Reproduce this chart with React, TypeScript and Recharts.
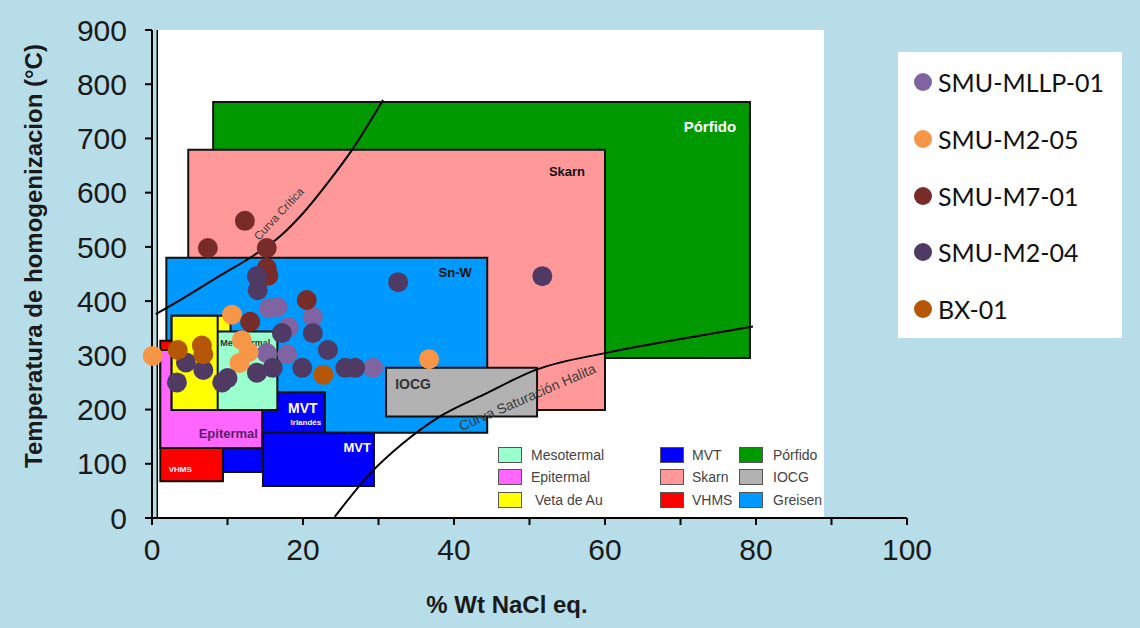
import React from 'react';
import {
  ComposedChart,
  XAxis,
  YAxis,
  Scatter,
  Line,
  ReferenceArea,
  ReferenceLine,
  ReferenceDot,
  Legend,
} from 'recharts';

// axis ticks
const xTicks = [0, 10, 20, 30, 40, 50, 60, 70, 80, 90, 100];
const yTicks = [0, 100, 200, 300, 400, 500, 600, 700, 800, 900];

// series names, in legend order
const seriesNames = ['SMU-MLLP-01', 'SMU-M2-05', 'SMU-M7-01', 'SMU-M2-04', 'BX-01'];

// fluid inclusions: salinity (% wt NaCl eq.) vs homogenization temperature (°C)
const smuMllp01 = [
  { x: 15.5, y: 387 }, { x: 16.6, y: 389 }, { x: 18.1, y: 352 }, { x: 21.3, y: 371 },
  { x: 15.2, y: 304 }, { x: 17.9, y: 302 }, { x: 29.3, y: 277 },
];
const smuM205 = [
  { x: 0.1, y: 299 }, { x: 10.6, y: 375 }, { x: 11.9, y: 328 }, { x: 12.8, y: 306 },
  { x: 11.6, y: 286 }, { x: 36.7, y: 293 },
];
const smuM701 = [
  { x: 7.4, y: 498 }, { x: 12.3, y: 548 }, { x: 15.2, y: 498 }, { x: 15.2, y: 461 },
  { x: 15.4, y: 447 }, { x: 13.0, y: 362 }, { x: 20.5, y: 402 },
];
const smuM204 = [
  { x: 3.3, y: 250 }, { x: 4.5, y: 287 }, { x: 6.8, y: 273 }, { x: 9.3, y: 250 },
  { x: 10.0, y: 258 }, { x: 13.9, y: 268 }, { x: 16.0, y: 277 }, { x: 19.9, y: 277 },
  { x: 25.6, y: 277 }, { x: 26.9, y: 277 }, { x: 23.3, y: 310 }, { x: 17.2, y: 341 },
  { x: 21.3, y: 341 }, { x: 14.0, y: 420 }, { x: 13.9, y: 446 }, { x: 32.6, y: 435 },
  { x: 51.7, y: 446 },
];
const bx01 = [
  { x: 3.4, y: 310 }, { x: 6.6, y: 318 }, { x: 6.8, y: 302 }, { x: 22.7, y: 264 },
];

// reference curves
const curvaCritica = [
  { x: 0.5, y: 376 }, { x: 4, y: 404 }, { x: 9, y: 447 }, { x: 13, y: 480 },
  { x: 17, y: 520 }, { x: 20, y: 562 }, { x: 23.6, y: 624 }, { x: 26.5, y: 679 },
  { x: 30.6, y: 771 },
];
const curvaHalita = [
  { x: 24.2, y: 2 }, { x: 29.1, y: 85 }, { x: 33, y: 135 }, { x: 38.1, y: 187 },
  { x: 44, y: 228 }, { x: 51, y: 274 }, { x: 60.3, y: 305 }, { x: 70, y: 330 },
  { x: 79.6, y: 353 },
];

// deposit fields [x1, x2, y1, y2]
const porfido = [8.1, 79.2, 295, 767];
const skarn = [4.8, 60, 199, 679];
const snW = [1.9, 44.4, 157, 480];
const iocg = [31, 51, 187, 277];
const vhms = [1.1, 9.4, 68, 327];
const mvtIrlandes = [9.4, 22.9, 85, 232];
const epitermal = [1.1, 14.6, 129, 310];
const vetaAu = [2.6, 10.4, 199, 373];
const mesotermal = [5.2, 16.6, 199, 344];
const vetaAuInner = [2.6, 8.7, 199, 373];
const mvt = [14.7, 29.4, 59, 157];

const fieldNames = [
  ['Mesotermal', 'Epitermal', 'Veta de Au'],
  ['MVT', 'Skarn', 'VHMS'],
  ['Pórfido', 'IOCG', 'Greisen'],
];

const FONT = "'Liberation Sans', Arial, sans-serif";

const fieldColors: Record<string, string> = {
  Mesotermal: '#99ffcc',
  Epitermal: '#ff66ff',
  'Veta de Au': '#ffff00',
  MVT: '#0000ff',
  Skarn: '#ff9999',
  VHMS: '#ff0000',
  'Pórfido': '#009900',
  IOCG: '#b2b2b2',
  Greisen: '#0099ff',
};

const dot = (color: string) => (p: any) => <circle cx={p.cx} cy={p.cy} r={10} fill={color} />;

// text placed relative to an area's box
const boxText = (
  text: string,
  anchor: 'tl' | 'tr' | 'bl' | 'br',
  dx: number,
  dy: number,
  size: number,
  color: string,
  align: 'start' | 'middle' | 'end' = 'middle',
) => (props: any) => {
  const vb = props.viewBox;
  if (!vb) return null;
  const bx = anchor === 'tl' || anchor === 'bl' ? vb.x : vb.x + vb.width;
  const by = anchor === 'tl' || anchor === 'tr' ? vb.y : vb.y + vb.height;
  return (
    <text
      x={bx + dx}
      y={by + dy}
      textAnchor={align}
      dominantBaseline="central"
      fontSize={size}
      fontWeight="bold"
      fontFamily={FONT}
      fill={color}
    >
      {text}
    </text>
  );
};

const mvtIrlLabel = (props: any) => {
  const vb = props.viewBox;
  if (!vb) return null;
  const x = vb.x + vb.width;
  return (
    <g fontFamily={FONT} fontWeight="bold" fill="#fff" textAnchor="middle">
      <text x={x - 22} y={vb.y + 16} fontSize={14} dominantBaseline="central">MVT</text>
      <text x={x - 19} y={vb.y + 30} fontSize={8} dominantBaseline="central">Irlandés</text>
    </g>
  );
};

const curveText = (text: string, angle: number, size: number) => (p: any) => (
  <text
    x={p.cx}
    y={p.cy}
    transform={`rotate(${angle} ${p.cx} ${p.cy})`}
    textAnchor="middle"
    dominantBaseline="central"
    fontSize={size}
    fontFamily={FONT}
    fill="#3a3a3a"
  >
    {text}
  </text>
);

const area = (b: number[], fill: string, label?: any) => (
  <ReferenceArea
    x1={b[0]}
    x2={b[1]}
    y1={b[2]}
    y2={b[3]}
    fill={fill}
    fillOpacity={1}
    stroke="#111"
    strokeWidth={2}
    ifOverflow="visible"
    label={label}
  />
);

const SeriesLegend = (props: any) => {
  const items = (props.payload || [])
    .filter((e: any) => e.type !== 'none' && seriesNames.includes(e.value))
    .sort((a: any, b: any) => seriesNames.indexOf(a.value) - seriesNames.indexOf(b.value));
  return (
    <div style={{ position: 'relative', width: 224, height: 286, background: '#fff' }}>
      {items.map((e: any, i: number) => (
        <div
          key={e.value}
          style={{
            position: 'absolute',
            left: 16,
            top: 16 + i * 56.8,
            height: 28,
            display: 'flex',
            alignItems: 'center',
            whiteSpace: 'nowrap',
          }}
        >
          <span
            style={{ width: 18, height: 18, borderRadius: 9, background: e.color, marginRight: 6, display: 'inline-block' }}
          />
          <span style={{ fontSize: 25, color: '#111', fontFamily: "Lato, 'Open Sans', sans-serif" }}>{e.value}</span>
        </div>
      ))}
    </div>
  );
};

const FieldLegend = () => {
  const colX = [498, 660, 739];
  const textX = [531, 692, 773];
  const rowY = [447, 469, 492];
  return (
    <>
      {fieldNames.map((col, ci) =>
        col.map((name, ri) => (
          <React.Fragment key={name}>
            <div
              style={{
                position: 'absolute',
                left: colX[ci],
                top: rowY[ri],
                width: 22,
                height: 14,
                background: fieldColors[name],
                border: '1.5px solid #555',
              }}
            />
            <div
              style={{
                position: 'absolute',
                left: textX[ci] + (name === 'Veta de Au' ? 4 : 0),
                top: rowY[ri] - 1,
                fontSize: 14,
                lineHeight: '18px',
                color: '#444',
                fontFamily: FONT,
              }}
            >
              {name}
            </div>
          </React.Fragment>
        )),
      )}
    </>
  );
};

export default function App() {
  return (
    <div
      style={{
        position: 'absolute',
        left: 0,
        top: 0,
        width: 1140,
        height: 628,
        background: '#b7dde8',
        fontFamily: FONT,
      }}
    >
      <ComposedChart width={1140} height={628} margin={{ top: 30, right: 233, bottom: 50, left: 72 }}>
        <XAxis
          type="number"
          dataKey="x"
          domain={[0, 100]}
          ticks={xTicks}
          interval={0}
          tickFormatter={(v: number) => (v % 20 === 0 ? String(v) : '')}
          axisLine={{ stroke: '#000', strokeWidth: 2 }}
          tickLine={{ stroke: '#000', strokeWidth: 2 }}
          tickSize={7}
          tickMargin={14}
          tick={{ fill: '#1a1a1a', fontSize: 30, fontFamily: FONT }}
          height={60}
        />
        <YAxis
          type="number"
          dataKey="y"
          domain={[0, 900]}
          ticks={yTicks}
          interval={0}
          axisLine={{ stroke: '#000', strokeWidth: 2 }}
          tickLine={{ stroke: '#000', strokeWidth: 2 }}
          tickSize={7}
          tickMargin={18}
          tick={{ fill: '#1a1a1a', fontSize: 30, fontFamily: FONT }}
          width={80}
          label={{
            content: () => (
              <text
                x={33}
                y={256}
                transform="rotate(-90 33 256)"
                textAnchor="middle"
                dominantBaseline="central"
                fontSize={24}
                fontWeight="bold"
                fontFamily={FONT}
                fill="#1a1a1a"
              >
                Temperatura de homogenizacion (°C)
              </text>
            ),
          }}
        />
        <Legend
          layout="vertical"
          align="center"
          verticalAlign="middle"
          content={SeriesLegend}
          wrapperStyle={{ left: 898, top: 52, width: 224, height: 286 }}
        />

        <ReferenceArea x1={0.8} x2={89} y1={0} y2={900} fill="#fff" fillOpacity={1} ifOverflow="visible" />
        <ReferenceLine x={0.7} stroke="#000" strokeWidth={1.5} />

        {area(porfido, fieldColors['Pórfido'], boxText('Pórfido', 'tr', -40, 24, 15, '#fff'))}
        {area(skarn, fieldColors.Skarn, boxText('Skarn', 'tr', -38, 22, 13, '#111'))}
        {area(snW, fieldColors.Greisen, boxText('Sn-W', 'tr', -32, 15, 13, '#111'))}
        {area(iocg, fieldColors.IOCG, boxText('IOCG', 'tl', 27, 16, 14, '#333'))}
        {area(vhms, fieldColors.VHMS, boxText('VHMS', 'bl', 20, -12, 8, '#fff'))}
        {area(mvtIrlandes, fieldColors.MVT, mvtIrlLabel)}
        {area(epitermal, fieldColors.Epitermal, boxText('Epitermal', 'bl', 68, -15, 13, '#5a1f6b'))}
        {area(vetaAu, fieldColors['Veta de Au'])}
        {area(mesotermal, fieldColors.Mesotermal, boxText('Mesotermal', 'tl', 29, 12, 9, '#333', 'start'))}
        {area(vetaAuInner, fieldColors['Veta de Au'])}
        {area(mvt, fieldColors.MVT, boxText('MVT', 'tr', -3, 15, 13, '#fff', 'end'))}

        <Line
          data={curvaCritica}
          dataKey="y"
          type="monotone"
          stroke="#000"
          strokeWidth={2}
          dot={false}
          legendType="none"
          isAnimationActive={false}
        />
        <Line
          data={curvaHalita}
          dataKey="y"
          type="monotone"
          stroke="#000"
          strokeWidth={2}
          dot={false}
          legendType="none"
          isAnimationActive={false}
        />
        <ReferenceDot x={16.8} y={561} r={0} shape={curveText('Curva Crítica', -47, 11.5)} />
        <ReferenceDot x={49.7} y={223} r={0} shape={curveText('Curva Saturación Halita', -23.5, 14)} />

        <Scatter name={seriesNames[0]} data={smuMllp01} dataKey="y" fill="#8064a2" shape={dot('#8064a2')} isAnimationActive={false} />
        <Scatter name={seriesNames[1]} data={smuM205} dataKey="y" fill="#f79646" shape={dot('#f79646')} isAnimationActive={false} />
        <Scatter name={seriesNames[2]} data={smuM701} dataKey="y" fill="#772c2a" shape={dot('#772c2a')} isAnimationActive={false} />
        <Scatter name={seriesNames[3]} data={smuM204} dataKey="y" fill="#4f3a63" shape={dot('#4f3a63')} isAnimationActive={false} />
        <Scatter name={seriesNames[4]} data={bx01} dataKey="y" fill="#b65708" shape={dot('#b65708')} isAnimationActive={false} />
      </ComposedChart>

      <FieldLegend />

      <div
        style={{
          position: 'absolute',
          left: 0,
          width: 1014,
          top: 591,
          textAlign: 'center',
          fontSize: 24,
          lineHeight: '28px',
          fontWeight: 'bold',
          color: '#1a1a1a',
          fontFamily: FONT,
        }}
      >
        % Wt NaCl eq.
      </div>
    </div>
  );
}
